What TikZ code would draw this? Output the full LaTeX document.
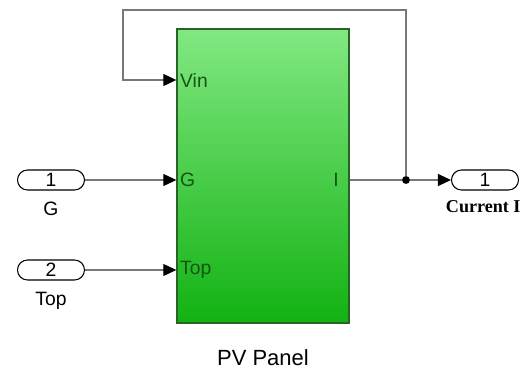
\documentclass[tikz,border=0pt]{standalone}
\usepackage{fontspec}
\setmainfont{Liberation Sans}
\newfontfamily\titlefont{Liberation Serif}
\usepackage{xcolor}
\usepackage{tikz}
\usetikzlibrary{arrows.meta, positioning}
\definecolor{blktop}{RGB}{130,232,130}
\definecolor{blkmid}{RGB}{100,215,100}
\definecolor{blkbot}{RGB}{18,178,18}
\definecolor{blkedge}{RGB}{40,100,40}
\definecolor{porttxt}{RGB}{20,85,20}
\definecolor{wirecol}{RGB}{120,120,120}

\begin{document}
\begin{tikzpicture}[x=0.02cm, y=-0.02cm, font=\fontsize{11}{13}\selectfont,
  blk/.style={rectangle, draw=blkedge, line width=0.8pt, top color=blktop,
              middle color=blkmid, bottom color=blkbot,
              minimum width=3.44cm, minimum height=5.88cm},
  io/.style={rectangle, rounded corners=0.2cm, draw=black, line width=0.6pt,
             fill=white, minimum width=1.34cm, minimum height=0.4cm, inner sep=0pt},
  pl/.style={text=porttxt, inner sep=2pt},
  dot/.style={circle, fill=black, inner sep=0pt, minimum size=4.5pt},
  w/.style={draw=wirecol, line width=0.6pt},
  a/.style={w, -{Triangle[length=2.6mm, width=2.4mm, color=black]}}]
  \useasboundingbox (0,0) rectangle (525,379);
  % main block
  \node[blk] (pv) at (263,176) {};
  \node[below=0.4cm of pv, font=\fontsize{12.5}{14}\selectfont] (pvname) {PV Panel};
  % port labels
  \node[pl, anchor=west] (lvin) at (pv.west |- 0,80) {Vin};
  \node[pl, anchor=west] (lg) at (pv.west |- 0,180) {G};
  \node[pl, anchor=west] (ltop) at (pv.west |- 0,270) {Top};
  \node[pl, anchor=east, xshift=-4pt] (li) at (pv.east |- 0,180) {I};
  % inports / outport
  \node[io] (in1) at (51,180) {1};
  \node[below=0.1cm of in1] (gname) {G};
  \node[io] (in2) at (51,270) {2};
  \node[below=0.1cm of in2] (topname) {Top};
  \node[io] (out1) at (485,180) {1};
  \node[below=0.08cm of out1, xshift=-1pt, font=\titlefont\bfseries\fontsize{10.3}{12}\selectfont] (outname) {Current I};
  \node[dot] (jn) at (406,180) {};
  \coordinate (fb) at (123,10);
  % wires
  \draw[a] (in1) -- (lg.west);
  \draw[a] (in2) -- (ltop.west);
  \draw[w] (pv.east |- jn) -- (jn);
  \draw[a] (jn) -- (out1);
  \draw[a] (jn) |- (fb) |- (lvin.west);
\end{tikzpicture}
\end{document}
